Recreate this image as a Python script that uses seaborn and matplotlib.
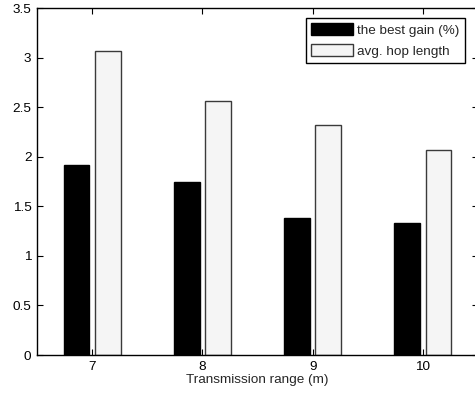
import matplotlib
matplotlib.use("Agg")
import matplotlib.pyplot as plt
from matplotlib.patches import Patch
import seaborn as sns
import pandas as pd

ranges = ["7", "8", "9", "10"]
best_gain = [1.92, 1.74, 1.38, 1.33]
hop_length = [3.07, 2.56, 2.32, 2.07]
series_names = ["the best gain (%)", "avg. hop length"]

df = pd.DataFrame({
    "range": ranges * 2,
    "value": best_gain + hop_length,
    "series": [series_names[0]] * len(ranges) + [series_names[1]] * len(ranges),
})

FS = 9.7
sns.set_style("ticks")
plt.rcParams["font.family"] = ["Liberation Sans", "DejaVu Sans"]
plt.rcParams["font.size"] = FS

fig = plt.figure(figsize=(4.75, 3.98), dpi=100)
ax = fig.add_axes([37 / 475, 43 / 398, 441 / 475, 347 / 398])

fills = ["black", "#f5f5f5"]
edges = ["black", "#3a3a3a"]
sns.barplot(data=df, x="range", y="value", hue="series", order=ranges,
            hue_order=series_names,
            palette=dict(zip(series_names, fills)),
            width=0.57, gap=0.18, ax=ax, linewidth=1.0, legend=False)

for cont, ec in zip(ax.containers, edges):
    for p in cont:
        p.set_edgecolor(ec)
        p.set_linewidth(1.0)

ax.set_xlim(-0.5, 3.5)
ax.set_ylim(0, 3.5)
ax.set_yticks([0, 0.5, 1, 1.5, 2, 2.5, 3, 3.5])
ax.set_yticklabels(["0", "0.5", "1", "1.5", "2", "2.5", "3", "3.5"])
ax.set_xlabel("Transmission range (m)", fontsize=FS, labelpad=1)
ax.set_ylabel("")
ax.tick_params(direction="in", top=True, right=True, length=4, width=0.8,
               labelsize=FS, colors="black", pad=4)
for s in ax.spines.values():
    s.set_visible(True)
    s.set_linewidth(1.0)
    s.set_color("black")

handles = [Patch(facecolor=f, edgecolor=e, linewidth=1.0) for f, e in zip(fills, edges)]
leg = fig.legend(handles, series_names, loc="upper right",
                 bbox_to_anchor=(465 / 475, 1 - 18 / 398),
                 bbox_transform=fig.transFigure, borderaxespad=0,
                 fancybox=False, framealpha=1, edgecolor="black",
                 handlelength=3.1, handleheight=0.95, handletextpad=0.3,
                 labelspacing=0.55, borderpad=0.4, fontsize=FS)
leg.get_frame().set_linewidth(1.0)

fig.savefig("out.png", dpi=100)
